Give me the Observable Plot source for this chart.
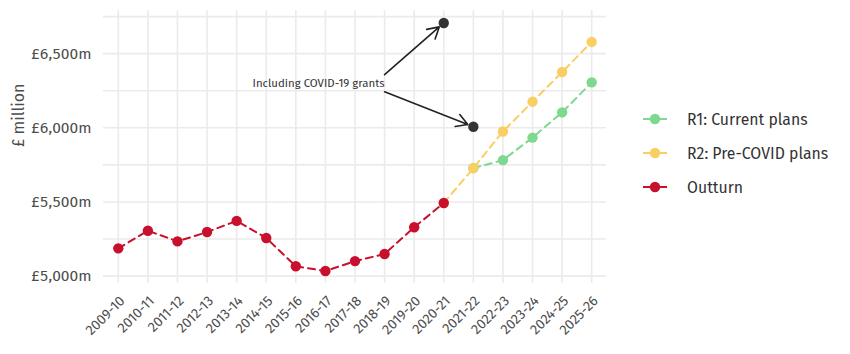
<!DOCTYPE html>
<html><head><meta charset="utf-8">
<script src="https://cdn.jsdelivr.net/npm/d3@7"></script>
<script src="https://cdn.jsdelivr.net/npm/@observablehq/plot@0.6"></script>
<style>
body{margin:0;background:#fff;font-family:"Fira Sans","Open Sans",sans-serif;}
#wrap{position:relative;width:850px;height:354px;}
#legend{position:absolute;left:641px;top:102px;}
.item{display:flex;align-items:center;height:34px;font-size:15.8px;color:#333;}
.item svg{margin-right:18px;}
</style></head><body><div id="wrap"><div id="chart"></div><div id="legend"></div></div>
<script>
// ---- data ----
const years = ["2009-10","2010-11","2011-12","2012-13","2013-14","2014-15","2015-16","2016-17","2017-18","2018-19","2019-20","2020-21","2021-22","2022-23","2023-24","2024-25","2025-26"];
const outturnYears = years.slice(0, 12);
const outturn = [5187,5306,5234,5297,5372,5257,5066,5034,5101,5149,5329,5493];
const r2Years = ["2020-21","2021-22","2022-23","2023-24","2024-25","2025-26"];
const r2 = [5493,5728,5975,6176,6376,6579];
const r1Years = ["2021-22","2022-23","2023-24","2024-25","2025-26"];
const r1 = [5728,5782,5934,6104,6306];
const covidYears = ["2020-21","2021-22"];
const covid = [6707,6007];
const annotText = "Including COVID-19 grants";
const annotYear = "2018-19";
const annotValue = 6297;
const arrowFromYear = ["2018-19","2018-19"];
const arrowFromValue = [6358,6243];
const yTicks = [5000,5500,6000,6500];
const yGrid = [5000,5250,5500,5750,6000,6250,6500,6750];
const seriesNames = ["R1: Current plans","R2: Pre-COVID plans","Outturn"];
const seriesColors = ["#7dd98f","#f8cf62","#c8102e"];

const zip = (xs, vs) => xs.map((x, i) => ({year: x, value: vs[i]}));
const dOut = zip(outturnYears, outturn);
const dR2 = zip(r2Years, r2);
const dR1 = zip(r1Years, r1);
const dCovid = zip(covidYears, covid);
const dArrows = covidYears.map((y, i) => ({x1: arrowFromYear[i], y1: arrowFromValue[i], x2: y, y2: covid[i]}));

const font = '"Fira Sans","Open Sans",sans-serif';
const dash = "7,5";

const chart = Plot.plot({
  width: 620, height: 354,
  marginLeft: 103, marginRight: 14, marginTop: 10, marginBottom: 71,
  style: {fontFamily: font, background: "#fff", overflow: "visible"},
  x: {type: "point", domain: years, padding: 0.5, round: false, label: null},
  y: {domain: [4950, 6791], label: null},
  marks: [
    Plot.ruleX(years, {x: d => d, stroke: "#ebebeb", strokeWidth: 1.6}),
    Plot.ruleY(yGrid, {y: d => d, stroke: "#ebebeb", strokeWidth: 1.6}),
    Plot.axisX({tickSize: 0, tickRotate: -45, tickPadding: 15, dx: 4, fontSize: 14, color: "#4d4d4d"}),
    Plot.axisY({ticks: yTicks, tickSize: 0, tickPadding: 12, fontSize: 15.5, color: "#4d4d4d",
      tickFormat: d => "£" + d3.format(",")(d) + "m"}),
    Plot.text(["£ million"], {frameAnchor: "left", dx: -85, rotate: -90, fontSize: 16, fill: "#4d4d4d"}),
    Plot.line(dR1, {x: "year", y: "value", stroke: seriesColors[0], strokeWidth: 2, strokeDasharray: dash}),
    Plot.line(dR2, {x: "year", y: "value", stroke: seriesColors[1], strokeWidth: 2, strokeDasharray: dash}),
    Plot.line(dOut, {x: "year", y: "value", stroke: seriesColors[2], strokeWidth: 2, strokeDasharray: dash}),
    Plot.dot(dR1, {x: "year", y: "value", r: 5.2, fill: seriesColors[0]}),
    Plot.dot(dR2, {x: "year", y: "value", r: 5.2, fill: seriesColors[1]}),
    Plot.dot(dOut, {x: "year", y: "value", r: 5.2, fill: seriesColors[2]}),
    Plot.dot(dCovid, {x: "year", y: "value", r: 5.2, fill: "#333333"}),
    Plot.arrow(dArrows, {x1: "x1", y1: "y1", x2: "x2", y2: "y2", stroke: "#222", strokeWidth: 1.6, headLength: 12, insetEnd: 6}),
    Plot.text([annotText], {x: () => annotYear, y: () => annotValue, text: d => d, textAnchor: "end", fontSize: 11.4, fill: "#333"})
  ]
});
document.getElementById("chart").appendChild(chart);

const legend = d3.select("#legend");
seriesNames.forEach((name, i) => {
  const item = legend.append("div").attr("class", "item");
  const svg = item.append("svg").attr("width", 28).attr("height", 14);
  svg.append("line").attr("x1", 2).attr("x2", 26).attr("y1", 7).attr("y2", 7).attr("stroke", seriesColors[i]).attr("stroke-width", 2);
  svg.append("circle").attr("cx", 14).attr("cy", 7).attr("r", 5.2).attr("fill", seriesColors[i]);
  item.append("span").text(name);
});
</script></body></html>
